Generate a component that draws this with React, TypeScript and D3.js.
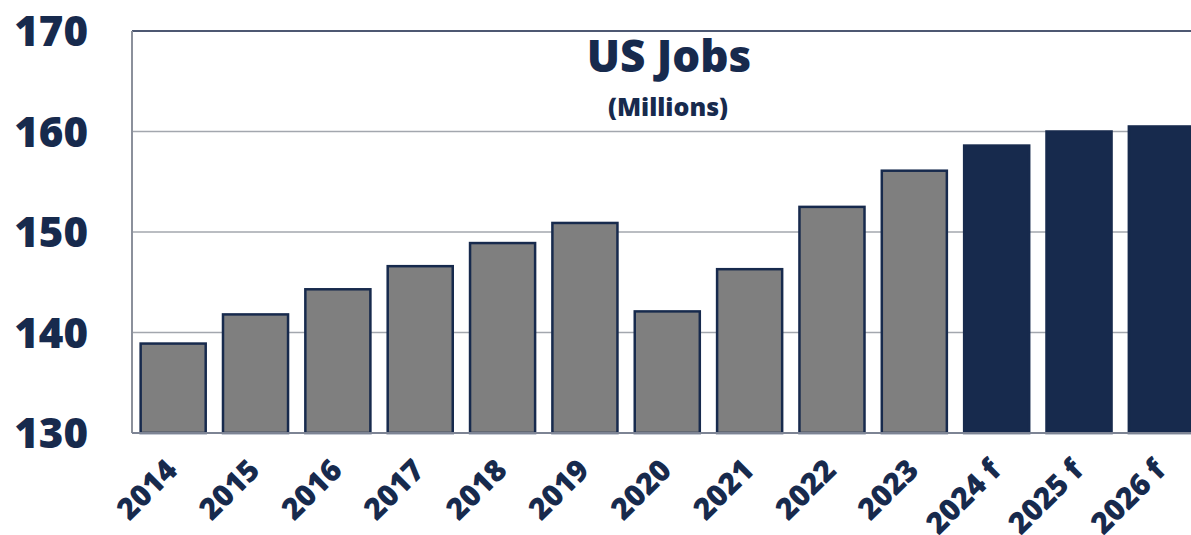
import React from "react"
import * as d3 from "d3"

const years = ["2014", "2015", "2016", "2017", "2018", "2019", "2020", "2021", "2022", "2023", "2024 f", "2025 f", "2026 f"]
const jobs = [138.9, 141.8, 144.3, 146.6, 148.9, 150.9, 142.1, 146.3, 152.5, 156.1, 158.6, 160.0, 160.5]
const forecast = [false, false, false, false, false, false, false, false, false, false, true, true, true]
const yTicks = [130, 140, 150, 160, 170]

const W = 1191
const H = 535
const left = 132
const top = 31
const bottom = 433
const navy = "#172a4d"
const font = "'Open Sans', 'Segoe UI', sans-serif"

const App: React.FC = () => {
  const x = d3.scaleBand<string>()
    .domain(years)
    .range([left, left + 13 * 82.35])
    .paddingInner(0.21)
    .paddingOuter(0.105)

  const y = d3.scaleLinear().domain([130, 170]).range([bottom, top])

  return (
    <svg width={W} height={H} style={{ position: "absolute", left: 0, top: 0 }}>
      <rect x={0} y={0} width={W} height={H} fill="#fff" />

      {/* grid */}
      {yTicks.slice(1, -1).map(t => (
        <line key={t} x1={left} x2={W} y1={y(t)} y2={y(t)} stroke="#a3a7ae" strokeWidth={1.5} />
      ))}
      <line x1={left} x2={W} y1={top} y2={top} stroke="#4d5872" strokeWidth={2} />

      {/* bars */}
      {years.map((yr, i) => (
        <rect key={yr}
          x={x(yr)!} y={y(jobs[i])}
          width={x.bandwidth()} height={bottom - y(jobs[i])}
          fill={forecast[i] ? navy : "#7f7f7f"}
          stroke={navy} strokeWidth={2.5} />
      ))}

      <line x1={left} x2={left} y1={top} y2={bottom} stroke="#8b909b" strokeWidth={2} />
      <line x1={left} x2={W} y1={bottom} y2={bottom} stroke="#7d8494" strokeWidth={2} />

      {/* y labels */}
      {yTicks.map(t => (
        <text key={t} x={88} y={y(t)} dy="0.36em" textAnchor="end"
          fontFamily={font} fontWeight={800} fontSize={42} fill={navy}>{t}</text>
      ))}

      {/* x labels */}
      {years.map(yr => (
        <text key={yr} textAnchor="end" fontFamily={font} fontWeight={800} fontSize={30} fill={navy}
          transform={`translate(${x(yr)! + x.bandwidth() / 2 + 6}, 472) rotate(-45)`}>{yr}</text>
      ))}

      {/* title */}
      <text x={669} y={72} textAnchor="middle" fontFamily={font} fontWeight={800} fontSize={44} fill={navy}>US Jobs</text>
      <text x={668} y={116} textAnchor="middle" fontFamily={font} fontWeight={800} fontSize={25} fill={navy}>(Millions)</text>
    </svg>
  )
}

export default App
